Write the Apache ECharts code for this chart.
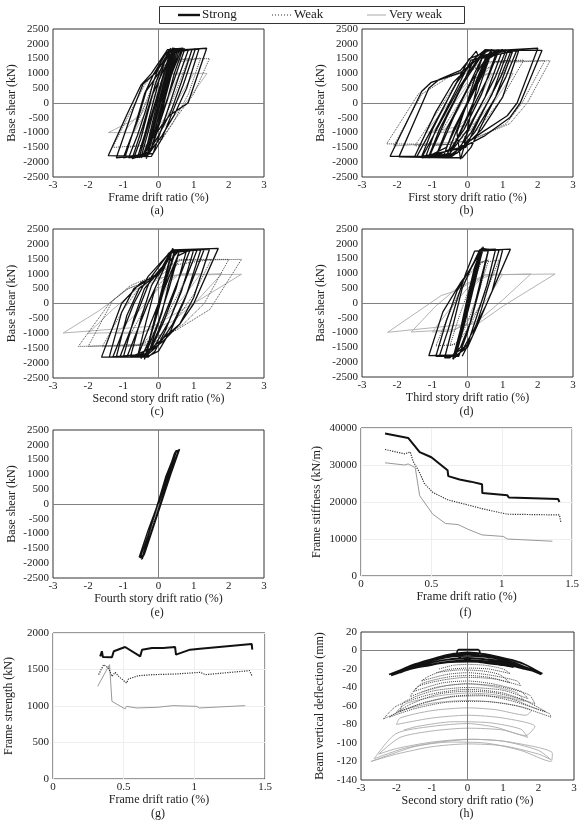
<!DOCTYPE html>
<html><head><meta charset="utf-8">
<script src="https://cdn.jsdelivr.net/npm/echarts@6/dist/echarts.min.js"></script>
<style>html,body{margin:0;padding:0;background:#fff}#c{width:582px;height:822px}</style>
</head><body><div id="c"></div>
<script>
const seriesNames = ['Strong', 'Weak', 'Very weak'];
const panelLetters = ['(a)', '(b)', '(c)', '(d)', '(e)', '(f)', '(g)', '(h)'];
const xTitles = ['Frame drift ratio (%)', 'First story drift ratio (%)', 'Second story drift ratio (%)',
  'Third story drift ratio (%)', 'Fourth story drift ratio (%)', 'Frame drift ratio (%)',
  'Frame drift ratio (%)', 'Second story drift ratio (%)'];
const yTitles = ['Base shear (kN)', 'Base shear (kN)', 'Base shear (kN)', 'Base shear (kN)',
  'Base shear (kN)', 'Frame stiffness (kN/m)', 'Frame strength (kN)', 'Beam vertical deflection (mm)'];

// ---- (a) frame drift vs base shear
const aStrong = [[0,0],[0.2,900],[0.38,1750],[0.45,1800],[0.15,400],[-0.1,-700],[-0.32,-1750],[-0.4,-1820],
  [-0.1,-300],[0.1,700],[0.3,1600],[0.55,1820],[0.25,600],[0.0,-500],[-0.25,-1500],[-0.55,-1850],
  [-0.25,-600],[0.0,400],[0.25,1400],[0.45,1780],[0.75,1830],[0.45,800],[0.15,-200],[-0.1,-1000],[-0.4,-1750],[-0.75,-1880],
  [-0.45,-800],[-0.2,200],[0.1,1000],[0.4,1750],[0.95,1800],[0.65,700],[0.35,-300],[0.0,-1100],[-0.3,-1700],[-1.0,-1850],
  [-0.6,-600],[-0.35,400],[0.0,1000],[0.35,1750],[1.15,1820],[0.8,500],[0.45,-400],[0.1,-1100],[-0.3,-1750],[-1.2,-1850],
  [-0.72,-200],[-0.44,640],[-0.06,1040],[0.32,1770],[1.37,1850],[0.84,0],[0.33,-400],[0.13,-700],[-0.15,-1160],[-0.34,-1450],[-0.45,-1800],[-1.43,-1780],
  [-0.9,-400],[-0.5,600],[-0.2,1000],[0.2,1700],[0.55,1800],[0.3,900],[0.05,0],[-0.2,-1000],[-0.4,-1800],
  [-0.2,-1000],[0.0,0],[0.25,1200],[0.4,1750],[0.1,200],[-0.1,-600],[-0.3,-1650],[-0.1,-700],[0.1,300],[0.3,1500],[0.5,1780],
  [0.3,1000],[0.1,0],[-0.1,-900],[-0.3,-1700],[-0.5,-1850],[-0.3,-1000],[-0.1,-100],[0.1,800],[0.3,1600],[0.6,1820],
  [0.4,1100],[0.2,200],[0,-800],[-0.2,-1600],[-0.6,-1850],[-0.4,-1100],[-0.2,-200],[0,700],[0.2,1500],[0.4,1850],[0.65,1800],
  [0.35,900],[0.15,0],[-0.05,-900],[-0.25,-1700],[-0.7,-1850],[-0.5,-1200],[-0.3,-300],[-0.1,600],[0.15,1400],[0.3,1800],[0.85,1800],
  [0.55,800],[0.3,-100],[0.05,-1000],[-0.15,-1700],[-0.85,-1850],[-0.6,-1100],[-0.35,-200],[-0.15,700],[0.1,1500],[0.25,1800],[0.7,1850],
  [0.45,1000],[0.25,100],[0.0,-800],[-0.2,-1500],[-0.35,-1880],[-0.15,-900],[0.05,0],[0.25,900],[0.45,1700],[1.05,1830],
  [0.7,600],[0.4,-300],[0.1,-1200],[-0.2,-1800],[-0.95,-1820],[-0.65,-700],[-0.4,300],[-0.15,950],[0.2,1650],[0.35,1850]];
const aWeak = [[0,0],[0.2,800],[0.35,1450],[0.5,1500],[0.2,300],[-0.1,-800],[-0.35,-1450],[-0.5,-1500],
  [-0.2,-400],[0.1,600],[0.4,1400],[0.85,1500],[0.5,400],[0.15,-600],[-0.2,-1400],[-0.9,-1500],
  [-0.5,-400],[-0.2,500],[0.2,1300],[1.2,1520],[0.85,300],[0.4,-700],[0.0,-1400],[-1.3,-1500],
  [-0.8,-300],[-0.4,600],[0.0,1200],[0.5,1480],[1.45,1500],[1.0,300],[0.5,-500],[0.1,-1200],[-0.4,-1480]];
const aVeryWeak = [[0,0],[0.2,700],[0.35,1000],[0.6,1000],[0.3,200],[0,-600],[-0.3,-1000],[-0.7,-1000],
  [-0.3,-200],[0.1,600],[0.4,1000],[1.0,1000],[0.6,200],[0.2,-500],[-0.2,-1000],[-1.0,-1000],
  [-0.5,-300],[-0.1,500],[0.3,1000],[1.38,1000],[0.9,200],[0.4,-500],[0,-1000],[-1.43,-1000],
  [-0.55,-480],[-0.1,300],[0.3,950],[0.8,1000]];

// ---- (b) first story
const bStrong = [[0,0],[0.3,900],[0.55,1600],[0.7,1780],[0.3,400],[-0.1,-700],[-0.5,-1700],[-0.6,-1800],
  [-0.2,-600],[0.2,600],[0.6,1600],[0.85,1800],[0.4,300],[-0.1,-900],[-0.6,-1750],[-0.9,-1850],
  [-0.4,-500],[0.1,700],[0.6,1650],[1.0,1800],[0.5,200],[0.0,-900],[-0.5,-1700],[-1.1,-1850],
  [-0.6,-500],[-0.1,700],[0.4,1600],[1.15,1780],[0.7,300],[0.1,-1000],[-0.4,-1750],[-1.3,-1850],
  [-0.7,-500],[-0.2,600],[0.3,1500],[0.6,1780],[1.3,1800],[0.8,200],[0.2,-1000],[-0.3,-1700],[-1.45,-1830],
  [-0.8,-400],[-0.3,700],[0.2,1500],[0.5,1800],[1.45,1750],[1.0,200],[0.4,-900],[-0.2,-1600],[-0.5,-1850],[-1.5,-1800],
  [-0.9,-300],[-0.4,700],[0.2,1400],[0.5,1750],[2.0,1850],[1.41,0],[1.13,-430],[0.4,-1000],[-0.2,-1500],[-0.5,-1800],[-2.2,-1800],
  [-1.3,400],[-1.03,700],[-0.19,1030],[0.3,1500],[0.6,1780],[2.12,1780],[1.5,0],[1.2,-500],[0.5,-1100],[-0.3,-1600],[-0.6,-1850],[-1.95,-1820],
  [-1.1,500],[-0.8,800],[-0.2,1100],[0.25,1750],[0.3,1600],[0.5,1800],[0.2,800],[-0.1,-300],[-0.3,-1000],[-0.2,-1900],
  [-0.1,-1500],[0.1,-300],[0.3,700],[0.5,1500],[0.9,1800],
  [0.6,900],[0.0,-500],[-0.4,-1500],[-0.9,-1800],[-0.6,-900],[0.0,500],[0.4,1500],[1.1,1800],
  [0.8,900],[0.2,-500],[-0.2,-1500],[-1.1,-1800],[-0.8,-900],[-0.2,500],[0.2,1500],[1.25,1800],
  [0.95,900],[0.35,-500],[-0.05,-1500],[-1.3,-1800],[-1.0,-900],[-0.4,500],[0.05,1500],[0.7,1800],
  [0.4,900],[-0.2,-500],[-0.6,-1500],[-1.2,-1850],[-0.9,-900],[-0.3,500],[0.1,1450],[1.4,1780],
  [1.1,900],[0.5,-500],[0.1,-1500],[-0.15,-1850],[-0.7,-1850],[-0.4,-900],[0.2,500],[0.6,1500],[1.0,1780]];
const bWeak = [[0,0],[0.4,900],[0.8,1400],[1.2,1450],[0.7,300],[0.1,-900],[-0.6,-1400],[-1.0,-1450],
  [-0.4,-300],[0.2,800],[0.8,1400],[1.6,1450],[1.0,200],[0.3,-900],[-0.5,-1400],[-1.5,-1450],
  [-0.8,-200],[-0.2,900],[0.6,1400],[2.2,1430],[1.55,0],[1.1,-700],[0.2,-1200],[-0.5,-1400],[-2.3,-1380],
  [-1.4,300],[-1.0,700],[-0.2,1000],[0.5,1350],[2.35,1430],[1.7,0],[1.2,-700],[0.0,-1300],[-2.1,-1450],
  [-1.3,300],[-0.5,900],[0.3,1300]];
const bVeryWeak = [[0,0],[0.2,600],[0.4,950],[0.7,1000],[0.4,300],[0,-500],[-0.4,-950],[-0.7,-1000],
  [-0.3,-300],[0.1,500],[0.5,980],[1.0,1000],[0.6,200],[0.1,-600],[-0.5,-1000],[-1.0,-1000],
  [-0.5,-200],[0,600],[0.6,1000],[1.3,1000],[0.8,100],[0.2,-700],[-1.2,-1000],[-0.6,-100],[0,700]];

// ---- (c) second story
const cStrong = [[0,0],[0.2,800],[0.35,1600],[0.4,1850],[0.45,1750],[0.2,700],[-0.1,-500],[-0.3,-1500],[-0.4,-1880],
  [-0.15,-700],[0.1,500],[0.3,1400],[0.6,1800],[0.3,500],[0.0,-600],[-0.3,-1500],[-0.6,-1800],
  [-0.35,-600],[-0.1,500],[0.2,1300],[0.4,1750],[0.8,1800],[0.5,500],[0.15,-600],[-0.2,-1500],[-0.8,-1800],
  [-0.5,-500],[-0.2,600],[0.15,1300],[0.4,1750],[1.0,1800],[0.65,400],[0.3,-600],[-0.1,-1400],[-0.4,-1750],[-1.0,-1800],
  [-0.7,-500],[-0.4,500],[0.1,1200],[0.4,1750],[1.2,1800],[0.8,300],[0.4,-700],[0.0,-1400],[-0.4,-1800],[-1.2,-1800],
  [-0.9,-400],[-0.55,500],[0.0,1000],[0.35,1750],[1.45,1820],[1.0,200],[0.6,-700],[0.1,-1300],[-0.4,-1700],[-1.4,-1800],
  [-1.05,-300],[-0.7,500],[-0.1,950],[0.3,1500],[0.4,1800],[1.7,1850],[0.99,-30],[0.6,-700],[0.1,-1200],[-0.3,-1600],[-0.4,-1800],[-1.62,-1800],
  [-1.05,0],[-0.5,700],[0,950],[0.3,1500],[0.37,1780],[0.6,1800],[0.3,700],[0.1,-300],[-0.1,-1000],[-0.3,-1750],
  [-0.6,-1800],[-0.3,-900],[0,0],[0.3,900],[0.55,1600],[0.9,1800],[0.6,900],[0.3,0],[0,-900],[-0.3,-1700],[-0.9,-1800],
  [-0.6,-900],[-0.3,0],[0.05,900],[0.35,1700],[1.1,1800],[0.8,900],[0.5,0],[0.2,-900],[-0.1,-1600],[-0.3,-1800],[-1.1,-1800],
  [-0.8,-900],[-0.5,0],[-0.2,900],[0.3,1700],[1.3,1820],[1.0,900],[0.7,0],[0.35,-900],[0.0,-1600],[-0.35,-1800],[-1.3,-1800],
  [-1.0,-900],[-0.7,0],[-0.3,900],[0.35,1750],[0.5,1800],[0.25,900],[0.0,-200],[-0.25,-1200],[-0.5,-1850]];
const cWeak = [[0,0],[0.3,900],[0.6,1450],[1.0,1480],[0.6,400],[0.1,-700],[-0.5,-1400],[-1.0,-1450],
  [-0.5,-400],[0,600],[0.5,1300],[1.5,1480],[1.0,300],[0.4,-700],[-0.3,-1400],[-1.6,-1450],
  [-1.0,-200],[-0.5,600],[0.2,1200],[0.6,1480],[2.0,1480],[1.3,0],[0.7,-700],[-0.2,-1350],[-2.0,-1440],
  [-1.3,100],[-0.8,600],[0,1000],[0.6,1450],[2.36,1480],[1.46,-200],[0.5,-900],[-0.6,-1400],[-2.28,-1440],
  [-1.4,0],[-0.91,470],[0,900],[0.5,1300]];
const cVeryWeak = [[0,0],[0.3,700],[0.6,1000],[1.2,1000],[0.7,200],[0.1,-600],[-0.5,-1000],[-1.2,-1000],
  [-0.6,-300],[0,500],[0.5,950],[1.8,1000],[1.1,100],[0.4,-600],[-0.4,-950],[-2.0,-1000],
  [-1.3,-200],[-0.6,500],[0.3,950],[2.36,980],[1.08,60],[-0.15,-760],[-2.71,-990],
  [-1.7,-250],[-0.82,530],[0,850],[0.8,1000]];

// ---- (d) third story
const dStrong = [[0,0],[0.2,1000],[0.4,1850],[0.42,1800],[0.2,700],[0,-300],[-0.2,-1200],[-0.4,-1850],
  [-0.2,-900],[0,100],[0.2,1100],[0.45,1900],[0.25,900],[0.05,-100],[-0.15,-1000],[-0.42,-1900],
  [-0.2,-900],[0,200],[0.2,1200],[0.4,1850],[0.6,1800],[0.35,500],[0.1,-600],[-0.2,-1500],[-0.5,-1850],[-0.65,-1850],
  [-0.4,-700],[-0.15,500],[0.15,1300],[0.35,1800],[0.8,1820],[0.55,600],[0.25,-500],[0,-1400],[-0.3,-1800],[-0.9,-1800],
  [-0.6,-600],[-0.3,400],[0.1,1200],[0.35,1750],[1.0,1800],[0.7,400],[0.3,-700],[0,-1500],[-0.3,-1750],[-1.1,-1780],
  [-0.7,-300],[-0.19,700],[0.09,1150],[0.3,1600],[0.45,1780],[1.22,1820],[0.52,-90],[0.19,-880],[-0.1,-1500],[-0.35,-1700],[-0.4,-1900],
  [-0.3,-1600],[-0.1,-600],[0.1,600],[0.3,1500],[0.42,1850],[0.1,300],[-0.15,-900],[-0.35,-1750],[-0.1,-500],[0.15,800],[0.35,1700],
  [0.45,1850],[0.25,1000],[0.05,0],[-0.15,-1000],[-0.35,-1850],[-0.15,-900],[0.05,100],[0.25,1100],[0.4,1800],
  [0.2,800],[0,-200],[-0.2,-1200],[-0.38,-1850],[-0.18,-800],[0.02,200],[0.22,1200],[0.38,1800],[0.6,1820],
  [0.4,900],[0.2,-100],[0,-1000],[-0.25,-1800],[-0.8,-1800],[-0.55,-900],[-0.3,100],[-0.05,1000],[0.2,1750],[0.9,1800],
  [0.65,800],[0.4,-200],[0.15,-1100],[-0.15,-1800]];
const dWeak = [[0,0],[0.2,800],[0.4,1400],[0.6,1450],[0.35,500],[0.05,-500],[-0.25,-1300],[-0.5,-1450],
  [-0.25,-500],[0.05,500],[0.35,1350],[0.9,1450],[0.5,300],[0.1,-700],[-0.3,-1400],[-0.9,-1450],
  [-0.5,-300],[-0.1,700],[0.3,1350],[0.6,1450]];
const dVeryWeak = [[0,0],[0.2,600],[0.5,950],[1.0,980],[0.6,200],[0.1,-500],[-0.4,-950],[-1.0,-980],
  [-0.5,-200],[0,500],[0.5,950],[1.8,980],[1.0,100],[0.3,-600],[-0.4,-900],[-1.6,-980],
  [-0.9,-100],[-0.3,500],[0.5,950],[2.49,980],[1.03,-90],[0.3,-700],[-0.38,-760],[-2.27,-990],
  [-0.75,250],[-0.38,400],[0.3,800],[0.8,980]];

// ---- (e) fourth story
const eStrong = [[0,0],[0.25,900],[0.5,1800],[0.55,1850],[0.3,1000],[0.05,0],[-0.2,-900],[-0.45,-1800],[-0.5,-1850],
  [-0.25,-900],[-0.02,0],[0.2,800],[0.45,1700],[0.6,1850],[0.35,1000],[0.1,100],[-0.15,-800],[-0.4,-1700],[-0.55,-1800],
  [-0.3,-900],[-0.05,-100],[0.2,900],[0.4,1500],[0.5,1800],[0.25,700],[0,-200],[-0.25,-1100],[-0.48,-1880],
  [-0.2,-700],[0.05,300],[0.3,1200],[0.52,1820],[0.32,1100],[0.08,50],[-0.17,-850],[-0.42,-1750],[-0.52,-1820],
  [-0.27,-950],[-0.04,-50],[0.22,850],[0.47,1750],[0.57,1820],[0.33,1050],[0.03,-100],[-0.22,-1000],[-0.46,-1850]];
const eWeak = [[0,0],[0.2,700],[0.4,1450],[0.2,700],[0,-100],[-0.2,-800],[-0.4,-1450],[-0.2,-700],[0,100],[0.2,750],[0.42,1500]];
const eVeryWeak = [[0,0],[0.15,500],[0.3,1000],[0.15,500],[0,-50],[-0.15,-550],[-0.3,-1000],[-0.15,-500],[0,50]];

// ---- (f) frame stiffness
const fStrong = [[0.171,38500],[0.335,37300],[0.34,37800],[0.417,33500],[0.5,32100],[0.615,28600],[0.62,27000],
  [0.70,26100],[0.78,25500],[0.86,24800],[0.862,22400],[1.04,21800],[1.05,21200],[1.40,20800],[1.41,20000]];
const fWeak = [[0.171,34200],[0.31,33000],[0.35,33500],[0.37,31000],[0.417,27900],[0.45,25000],[0.51,22600],
  [0.615,20600],[0.78,19000],[0.87,18100],[1.04,16700],[1.41,16500],[1.42,14500]];
const fVeryWeak = [[0.171,30600],[0.31,30000],[0.335,30300],[0.385,29300],[0.417,21700],[0.51,16700],[0.60,14200],
  [0.69,13900],[0.756,12700],[0.86,11100],[1.01,10700],[1.04,10000],[1.36,9400]];

// ---- (g) frame strength
const gStrong = [[0.334,1680],[0.346,1750],[0.353,1670],[0.417,1667],[0.43,1750],[0.51,1808],[0.617,1680],[0.63,1770],
  [0.70,1795],[0.71,1770],[0.78,1795],[0.79,1780],[0.864,1808],[0.87,1703],[0.97,1772],[1.04,1785],[1.05,1758],[1.406,1850],[1.41,1772]];
const gWeak = [[0.323,1430],[0.358,1566],[0.393,1520],[0.417,1406],[0.44,1461],[0.464,1406],[0.52,1315],[0.534,1370],
  [0.605,1415],[0.71,1430],[0.864,1438],[1.04,1461],[1.08,1430],[1.39,1484],[1.41,1406]];
const gVeryWeak = [[0.316,1270],[0.40,1566],[0.417,1064],[0.51,960],[0.52,995],[0.593,973],[0.735,982],
  [0.85,1005],[1.017,995],[1.036,973],[1.36,1005]];

// ---- (h) beam vertical deflection
const hStrong = [[-2.21,-26],[-1.6,-17],[-1.0,-10],[-0.4,-4],[0,-2],[0.5,-4],[1.1,-9],[1.6,-15],[2.11,-25],
  [1.9,-22],[1.3,-13],[0.7,-7],[0,-4],[-0.7,-7],[-1.4,-14],[-2.05,-24],
  [-1.8,-22],[-1.2,-15],[-0.6,-10],[0,-8],[0.6,-10],[1.2,-15],[1.85,-22],
  [1.6,-20],[1.0,-14],[0.4,-11],[-0.3,-11],[-0.9,-14],[-1.5,-19],
  [-1.2,-17],[-0.6,-13],[0,-12],[0.6,-13],[1.3,-18],
  [1.0,-16],[0.4,-13],[-0.2,-8],[-0.3,-3],[-0.25,1],[0.3,1],[0.35,-2],[0.2,-6],[-0.4,-6],[-1.0,-11],
  [-1.6,-18],[-2.1,-25],[-1.5,-15],[-0.9,-8],[-0.3,-3],[0.3,-3],[0.9,-7],[1.5,-13],[2.05,-24],
  [1.7,-19],[1.1,-11],[0.5,-7],[0,-6],[-0.5,-7],[-1.1,-12],[-1.7,-19],[-2.15,-27],
  [-1.6,-20],[-1.0,-15],[-0.4,-12],[0,-11],[0.5,-12],[1.1,-15],[1.7,-20],[2.08,-26],
  [1.5,-17],[0.9,-11],[0.3,-9],[-0.3,-9],[-0.9,-12],[-1.5,-18],[-1.9,-24]];
const hWeak = [[-0.8,-20],[-0.4,-16],[0,-15],[0.5,-16],[1.0,-20],
  [1.2,-25],[0.6,-20],[0,-19],[-0.6,-21],[-1.1,-28],
  [-1.3,-33],[-0.6,-26],[0,-24],[0.7,-27],[1.4,-33],
  [1.5,-38],[0.8,-31],[0,-29],[-0.7,-32],[-1.4,-39],
  [-1.62,-50],[-0.9,-40],[0,-36],[0.9,-39],[1.74,-48],
  [1.9,-58],[1.0,-46],[0,-42],[-1.0,-47],[-2.0,-60],
  [-2.37,-74],[-1.5,-60],[-0.5,-50],[0.3,-48],[1.2,-54],[2.3,-68],
  [2.35,-72],[1.4,-60],[0.4,-55],[-0.6,-56],[-1.5,-63],[-2.2,-72],
  [-1.6,-58],[-0.8,-47],[0,-44],[0.8,-46],[1.6,-54],[2.2,-66],
  [2.0,-64],[1.2,-52],[0.4,-49],[-0.4,-50],[-1.2,-56],[-1.9,-66],
  [-1.8,-56],[-1.0,-44],[0,-40],[1.0,-43],[1.7,-52],
  [1.5,-44],[0.7,-36],[0,-33],[-0.7,-35],[-1.5,-44],
  [-1.3,-36],[-0.6,-29],[0,-27],[0.6,-29],[1.2,-35],
  [0.9,-26],[0.4,-22],[-0.2,-21],[-0.9,-24]];
const hVeryWeak = [[-1.3,-45],[-0.6,-38],[0,-36],[0.7,-39],[1.4,-46],
  [1.6,-55],[0.8,-48],[0,-46],[-0.8,-49],[-1.7,-57],
  [-2.0,-66],[-1.0,-57],[0,-54],[1.0,-57],[1.8,-65],
  [1.65,-70],[0.8,-64],[0,-62],[-1.0,-65],[-1.9,-73],
  [-2.0,-80],[-1.0,-73],[0,-70],[1.0,-73],[1.9,-82],
  [1.64,-92],[0.8,-83],[0,-79],[-1.0,-82],[-2.02,-90],
  [-2.63,-117],[-1.8,-106],[-0.8,-99],[0.2,-96],[1.2,-99],[2.39,-111],
  [2.35,-120],[1.5,-108],[0.5,-100],[-0.5,-99],[-1.5,-104],[-2.72,-120],
  [-2.0,-112],[-1.0,-104],[0,-101],[1.0,-103],[2.0,-112],[2.35,-118],
  [2.0,-108],[1.0,-98],[0,-96],[-1.0,-99],[-2.0,-106],[-2.5,-112],
  [-1.9,-94],[-1.0,-87],[0,-84],[1.0,-86],[1.7,-94],
  [1.5,-85],[0.6,-78],[-0.4,-77],[-1.4,-82],[-1.8,-86]];

const panelData = [
  [aStrong, aWeak, aVeryWeak], [bStrong, bWeak, bVeryWeak], [cStrong, cWeak, cVeryWeak],
  [dStrong, dWeak, dVeryWeak], [eStrong, eWeak, eVeryWeak], [fStrong, fWeak, fVeryWeak],
  [gStrong, gWeak, gVeryWeak], [hStrong, hWeak, hVeryWeak]
];

// ---------------- layout & style
const FONT = 'Liberation Serif';
const rects = [
  [53, 29, 211, 148], [362, 29, 211, 148],
  [53, 229, 211, 149], [362, 229, 211, 148],
  [53, 430, 211, 148], [361, 428, 213, 148],
  [53, 633, 212, 146], [361, 632, 213, 148]
];
const ranges = [
  [-3, 3, 1, -2500, 2500, 500], [-3, 3, 1, -2500, 2500, 500],
  [-3, 3, 1, -2500, 2500, 500], [-3, 3, 1, -2500, 2500, 500],
  [-3, 3, 1, -2500, 2500, 500], [0, 1.5, 0.5, 0, 40000, 10000],
  [0, 1.5, 0.5, 0, 2000, 500], [-3, 3, 1, -140, 20, 20]
];
const isLinePanel = [false, false, false, false, false, true, true, false];

const grids = [], xAxes = [], yAxes = [], series = [], graphics = [];
const plain = v => String(v);
rects.forEach((r, i) => {
  grids.push({left: r[0], top: r[1], width: r[2], height: r[3], show: true,
    borderColor: '#333', borderWidth: 1, backgroundColor: 'transparent', containLabel: false});
  const rg = ranges[i];
  const split = isLinePanel[i];
  xAxes.push({type: 'value', gridIndex: i, min: rg[0], max: rg[1], interval: rg[2],
    axisLine: {show: false}, axisTick: {show: false},
    splitLine: {show: split, lineStyle: {color: '#eeeeee', width: 1}},
    axisLabel: {fontFamily: FONT, fontSize: 11, color: '#222', margin: 3, formatter: plain},
    name: xTitles[i], nameLocation: 'middle', nameGap: 15,
    nameTextStyle: {fontFamily: FONT, fontSize: 12, color: '#222'}});
  yAxes.push({type: 'value', gridIndex: i, min: rg[3], max: rg[4], interval: rg[5],
    axisLine: {show: false}, axisTick: {show: false},
    splitLine: {show: split, lineStyle: {color: '#eeeeee', width: 1}},
    axisLabel: {fontFamily: FONT, fontSize: 11, color: '#222', margin: 4, formatter: plain},
    name: yTitles[i], nameLocation: 'middle', nameGap: split ? 38 : 35,
    nameTextStyle: {fontFamily: FONT, fontSize: 12, color: '#222'}});
  if (!split) {
    series.push({type: 'line', xAxisIndex: i, yAxisIndex: i, data: [], silent: true, z: 1,
      markLine: {symbol: 'none', silent: true, animation: false, label: {show: false},
        lineStyle: {color: '#808080', type: 'solid', width: 1},
        data: [{xAxis: 0}, {yAxis: 0}]}});
  }
  const d = panelData[i];
  const styles = split ? [
    {color: '#111', width: 2, type: 'solid'},
    {color: '#333', width: 1.2, type: 'dotted'},
    {color: '#999', width: 1, type: 'solid'}
  ] : [
    {color: '#111', width: i === 7 ? 1.6 : 1.3, type: 'solid'},
    {color: '#444', width: 1, type: 'dotted'},
    {color: '#aaa', width: 0.9, type: 'solid'}
  ];
  [2, 1, 0].forEach(k => {
    series.push({name: seriesNames[k], type: 'line', xAxisIndex: i, yAxisIndex: i,
      data: d[k], symbol: 'none', showSymbol: false, silent: true, z: 5 - k,
      smooth: i === 7 ? 0.25 : false,
      lineStyle: styles[k], itemStyle: {color: styles[k].color}, animation: false});
  });
  graphics.push({type: 'text', left: r[0] + r[2] / 2 - 8, top: (i < 2 ? 205 : i < 4 ? 406 : i < 6 ? 607 : 808),
    style: {text: panelLetters[i], font: '12px "Liberation Serif"', fill: '#222'}});
});

// legend box (drawn as graphic so the keys show only line styles)
graphics.push({type: 'rect', shape: {x: 159.5, y: 6.5, width: 305, height: 17},
  style: {fill: '#fff', stroke: '#333', lineWidth: 1}});
graphics.push({type: 'line', shape: {x1: 178, y1: 15, x2: 200, y2: 15}, style: {stroke: '#111', lineWidth: 2.4}});
graphics.push({type: 'text', left: 202, top: 8, style: {text: seriesNames[0], font: '13px "Liberation Serif"', fill: '#222'}});
graphics.push({type: 'line', shape: {x1: 272, y1: 15, x2: 292, y2: 15}, style: {stroke: '#333', lineWidth: 1, lineDash: [1, 2]}});
graphics.push({type: 'text', left: 294, top: 8, style: {text: seriesNames[1], font: '13px "Liberation Serif"', fill: '#222'}});
graphics.push({type: 'line', shape: {x1: 367, y1: 15, x2: 386, y2: 15}, style: {stroke: '#aaa', lineWidth: 1}});
graphics.push({type: 'text', left: 389, top: 8, style: {text: seriesNames[2], font: '12.5px "Liberation Serif"', fill: '#222'}});

const chart = echarts.init(document.getElementById('c'), null, {renderer: 'canvas'});
chart.setOption({
  animation: false,
  backgroundColor: '#fff',
  legend: {show: false, data: seriesNames},
  grid: grids, xAxis: xAxes, yAxis: yAxes, series: series, graphic: graphics
});
</script></body></html>
